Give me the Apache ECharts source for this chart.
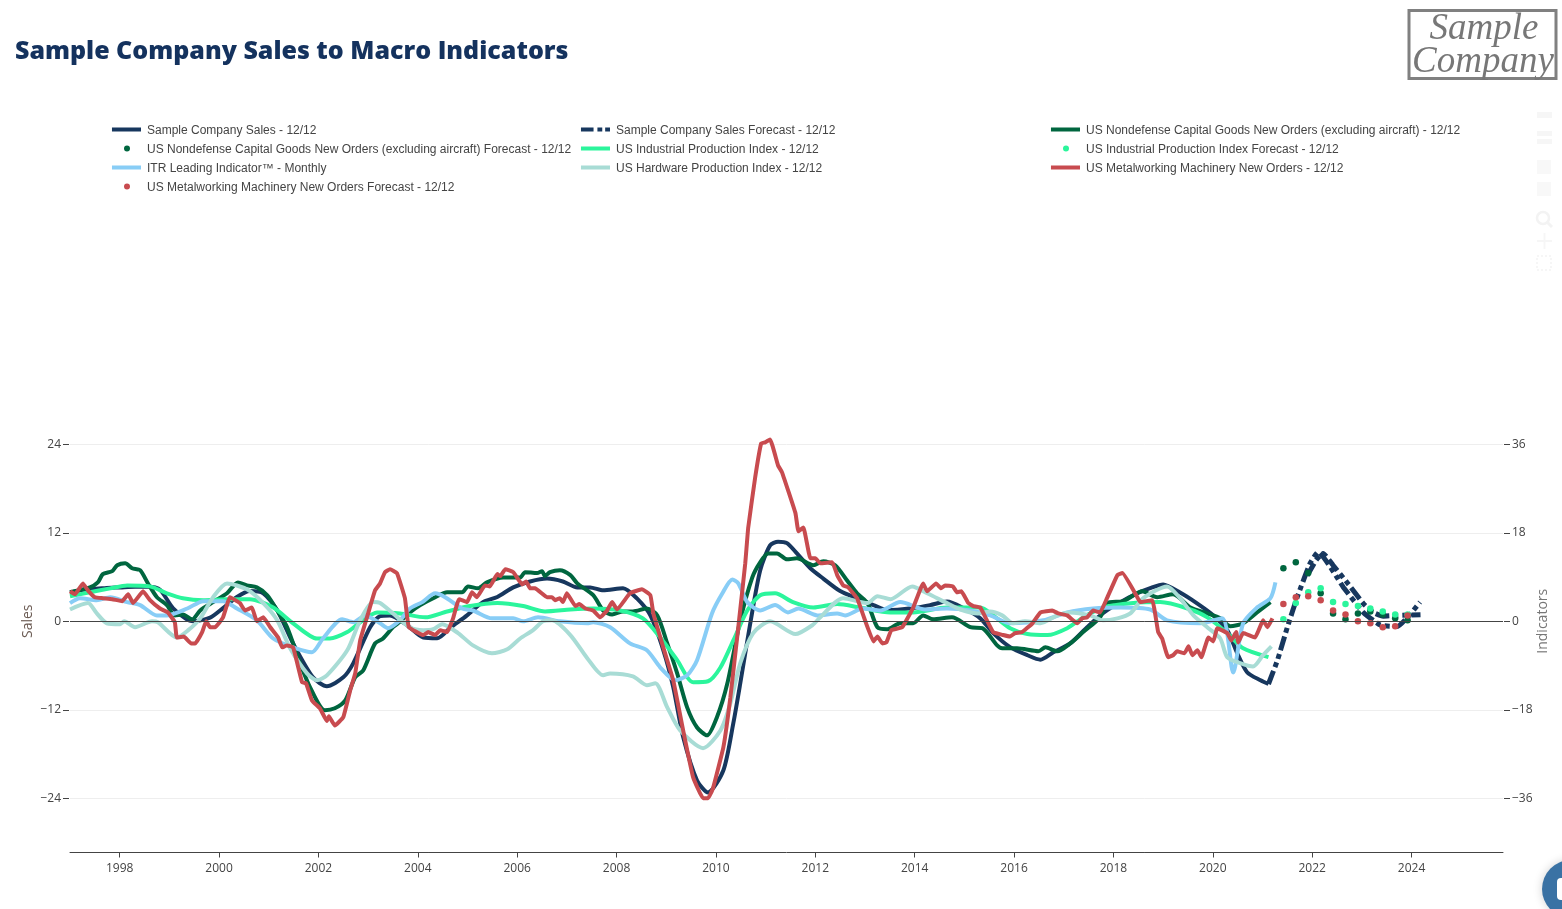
<!DOCTYPE html>
<html><head><meta charset="utf-8"><title>Sample Company Sales to Macro Indicators</title>
<script src="https://cdn.jsdelivr.net/npm/echarts@6/dist/echarts.min.js"></script>
<style>html,body{margin:0;padding:0;background:#fff;overflow:hidden}#c{width:1562px;height:909px}</style></head>
<body><div id="c"></div>
<script>
const yearTicks=[1998,2000,2002,2004,2006,2008,2010,2012,2014,2016,2018,2020,2022,2024];
const salesTicks=[-24,-12,0,12,24];
const indicatorTicks=[-36,-18,0,18,36];
const forecastYears=[2021.42,2021.67,2021.92,2022.17,2022.42,2022.67,2022.92,2023.17,2023.42,2023.67,2023.92];

const sales=[[1997,3.9],[1997.3,4.3],[1997.7,4.5],[1998.01,4.6],[1998.31,4.7],[1998.61,4.7],[1998.81,4.3],[1999.07,1.8],[1999.32,.4],[1999.48,0],[1999.82,.5],[2000.08,1.8],[2000.36,3.3],[2000.62,4.1],[2000.89,3.8],[2001.17,1.5],[2001.49,-3],[2001.89,-7.6],[2002.17,-8.8],[2002.5,-7.6],[2002.7,-5.7],[2003.04,-.8],[2003.24,.7],[2003.44,.8],[2003.78,-.5],[2004.11,-2.2],[2004.39,-2.3],[2004.65,-.9],[2004.99,.8],[2005.31,2.6],[2005.6,3.3],[2005.92,4.6],[2006.26,5.4],[2006.6,5.8],[2006.92,5.4],[2007.21,4.6],[2007.47,4.6],[2007.73,4.2],[2008.13,4.5],[2008.41,3.1],[2008.68,.8],[2008.94,-3.9],[2009.14,-8.9],[2009.34,-15.7],[2009.62,-21.6],[2009.84,-23.2],[2010.15,-20.2],[2010.35,-13.8],[2010.49,-8.4],[2010.69,-.3],[2010.89,6.9],[2011.09,10.3],[2011.25,10.8],[2011.43,10.6],[2011.63,9.2],[2011.9,7.2],[2012.16,5.8],[2012.5,4.1],[2012.84,3.1],[2013.17,2.2],[2013.45,1.5],[2013.97,1.8],[2014.31,2.2],[2014.65,2.7],[2014.98,1.8],[2015.32,.4],[2015.58,-1.6],[2015.92,-3.5],[2016.27,-4.6],[2016.53,-5.2],[2016.79,-4.2],[2017.13,-3],[2017.47,-.8],[2017.79,1.1],[2018.14,2.6],[2018.48,3.8],[2018.74,4.5],[2019,5],[2019.34,3.9],[2019.69,2.4],[2020.01,.8],[2020.29,-1.2],[2020.49,-4.3],[2020.69,-6.9],[2020.96,-8],[2021.12,-8.5]];
const salesForecast=[[2021.12,-8.5],[2021.3,-5.3],[2021.5,-.8],[2021.7,3.3],[2021.96,7.9],[2022.12,9.4],[2022.63,4.6],[2023.03,1.2],[2023.37,-.5],[2023.71,-.7],[2024.17,2.6]];
const salesForecastPrior=[[2021.9,6.2],[2022.08,8.3],[2022.22,9.2],[2022.42,7.6],[2022.71,5.2],[2023.03,2.4],[2023.23,1.2],[2023.43,.7],[2023.71,.8],[2024.18,.9]];
const capitalGoods=[[1997,5.9],[1997.4,6.9],[1997.56,7.9],[1997.66,9.6],[1997.85,10.2],[1997.95,11.4],[1998.11,11.8],[1998.25,10.8],[1998.41,10.4],[1998.57,7.7],[1998.75,4.9],[1998.95,3.3],[1999.11,1.2],[1999.27,1.4],[1999.46,.4],[1999.62,2.2],[1999.88,3.9],[2000.16,5.7],[2000.38,7.9],[2000.56,7.3],[2000.76,6.9],[2000.97,5.3],[2001.17,2.2],[2001.37,-1.2],[2001.63,-8.5],[2001.83,-13.4],[2002.13,-18.1],[2002.33,-17.7],[2002.54,-16.1],[2002.74,-11.4],[2002.9,-10],[2003.14,-4.5],[2003.3,-3.5],[2003.5,-1.2],[2003.6,-.4],[2003.84,1.8],[2004.05,3.3],[2004.35,4.9],[2004.59,5.9],[2004.89,5.9],[2005.01,7.1],[2005.21,6.7],[2005.39,7.9],[2005.72,8.9],[2006.06,8.9],[2006.16,10],[2006.4,9.8],[2006.5,10.2],[2006.56,9.2],[2006.66,10],[2006.86,10.4],[2007.07,9.4],[2007.21,7.7],[2007.53,5.3],[2007.73,2.2],[2007.91,1.4],[2008.13,2],[2008.33,2],[2008.61,2.6],[2008.82,1.2],[2009.02,-4.5],[2009.22,-10.6],[2009.42,-17.5],[2009.62,-21.6],[2009.82,-23.2],[2010.02,-19.5],[2010.23,-12.6],[2010.49,.2],[2010.73,8.9],[2010.89,12],[2011.05,13.8],[2011.23,13.8],[2011.43,12.6],[2011.63,12.8],[2011.96,11.4],[2012.16,12.2],[2012.4,11.4],[2012.64,8.3],[2012.84,5.7],[2013.05,3.7],[2013.25,-1.2],[2013.45,-1.6],[2013.71,-.4],[2013.97,-.4],[2014.17,1.2],[2014.37,.4],[2014.75,.8],[2015.12,-1.2],[2015.36,-1.4],[2015.66,-4.9],[2015.76,-5.5],[2016.06,-5.5],[2016.49,-6.1],[2016.63,-5.3],[2016.87,-6.1],[2017.13,-4.5],[2017.39,-2.2],[2017.73,.8],[2017.87,3.7],[2018.2,4.1],[2018.58,6.1],[2018.88,4.9],[2019.2,5.5],[2019.55,2.8],[2019.89,1.6],[2020.15,.6],[2020.35,-1],[2020.61,-.4],[2020.89,1.8],[2021.16,3.9]];
const capitalForecast=[10.8,12,9.8,5.7,1.6,.4,1.6,2,1.4,.6,.2];
const industrial=[[1997,5.1],[1997.4,5.9],[1997.81,6.7],[1998.15,7.3],[1998.61,7.1],[1998.95,5.7],[1999.27,4.7],[1999.68,4.3],[2000.16,4.5],[2000.62,4.5],[2001.09,2.8],[2001.49,-.4],[2001.97,-3.5],[2002.23,-3.5],[2002.58,-2.2],[2002.84,-.2],[2003.18,1.8],[2003.64,1.6],[2004.15,.8],[2004.59,2],[2005.05,3.1],[2005.6,3.7],[2006.12,3.1],[2006.56,2],[2007.07,2.4],[2007.53,2.6],[2008.07,2.2],[2008.53,.6],[2008.88,-3.3],[2009.22,-7.9],[2009.54,-12.4],[2009.84,-12.2],[2010.09,-9.4],[2010.35,-3.9],[2010.63,2.2],[2010.89,5.3],[2011.19,5.7],[2011.55,3.9],[2011.96,2.8],[2012.44,3.5],[2012.9,2.8],[2013.51,1.8],[2013.97,1.8],[2014.65,2.8],[2015.32,2.8],[2015.58,1.2],[2015.92,-1.4],[2016.27,-2.6],[2016.67,-2.8],[2017.07,-1.4],[2017.39,.8],[2017.79,2.8],[2018.4,3.7],[2018.94,3.9],[2019.49,2.6],[2019.89,.8],[2020.29,-2.4],[2020.61,-5.5],[2021.12,-7.3]];
const industrialForecast=[.4,3.7,5.9,6.7,3.9,3.5,3.1,2.6,2,1.4,1.4];
const itrLeading=[[1997,3.7],[1997.2,4.7],[1997.54,4.3],[1997.81,4.9],[1998.15,3.9],[1998.41,3.3],[1998.75,1.2],[1998.95,1.2],[1999.36,2.6],[1999.68,4.1],[2000.08,4.1],[2000.36,2.6],[2000.76,.2],[2001.09,-3.5],[2001.49,-5.3],[2001.87,-6.3],[2002.09,-3.5],[2002.48,.4],[2002.7,-.2],[2002.94,1.2],[2003.24,-.4],[2003.4,-1.4],[2003.64,.2],[2003.84,2.6],[2004.09,3.9],[2004.35,5.7],[2004.55,4.9],[2004.89,2.6],[2005.11,2.2],[2005.49,.6],[2005.92,.6],[2006.12,0],[2006.42,.8],[2006.86,0],[2007.41,-.4],[2007.53,-.2],[2007.87,-1.2],[2008.27,-4.5],[2008.61,-5.9],[2008.88,-9.4],[2009.18,-12],[2009.42,-11],[2009.62,-7.9],[2009.92,1.6],[2010.13,5.7],[2010.33,8.5],[2010.45,7.7],[2010.63,3.9],[2010.89,2.2],[2011.19,3.3],[2011.45,1.8],[2011.66,2.6],[2012.04,1.2],[2012.44,1.6],[2012.6,1.2],[2012.96,2.6],[2013.31,2.2],[2013.71,3.9],[2014.21,2.4],[2014.65,2.6],[2015.12,2.2],[2015.52,1.2],[2015.92,-.4],[2016.59,.2],[2017.07,1.8],[2017.59,2.6],[2018.14,2.8],[2018.74,2.4],[2019.08,.2],[2019.75,-.4],[2020.19,.6],[2020.41,-10.4],[2020.61,-.4],[2020.89,2.8],[2021.16,4.7],[2021.26,7.9]];
const hardware=[[1997,2.4],[1997.36,3.7],[1997.54,1.6],[1997.74,-.4],[1998.01,-.6],[1998.09,0],[1998.31,-1.2],[1998.65,0],[1998.77,-.2],[1999.15,-3.3],[1999.38,-1.8],[1999.62,.6],[1999.88,4.9],[2000.16,7.7],[2000.56,6.5],[2000.89,3.7],[2001.17,.2],[2001.43,-5.5],[2001.77,-10.6],[2001.97,-12],[2002.17,-11],[2002.58,-5.9],[2002.84,.2],[2003.1,3.9],[2003.24,3.7],[2003.5,1.6],[2003.84,-1.2],[2004.11,-1.8],[2004.31,-1.6],[2004.49,-.6],[2004.81,-2.4],[2005.11,-4.9],[2005.49,-6.5],[2005.8,-5.7],[2006.06,-3.5],[2006.32,-1.8],[2006.52,0],[2006.7,.2],[2007.07,-2.8],[2007.41,-7.5],[2007.73,-11],[2007.87,-10.6],[2008.33,-11.2],[2008.61,-13],[2008.78,-12.6],[2009.02,-17.5],[2009.28,-22.2],[2009.74,-25.8],[2010.09,-22.2],[2010.29,-16.7],[2010.49,-8.5],[2010.75,-2.4],[2011.09,0],[2011.6,-2.6],[2011.94,-.8],[2012.1,.8],[2012.56,4.7],[2013.05,3.7],[2013.25,5.1],[2013.51,4.5],[2013.95,7.1],[2014.25,5.7],[2014.65,3.7],[2014.92,2.4],[2015.26,1.6],[2015.52,2],[2015.76,1.2],[2015.98,-.4],[2016.22,0],[2016.53,-.4],[2016.87,1.2],[2017.13,1.8],[2017.53,1.2],[2017.79,.2],[2018.08,.6],[2018.34,1.6],[2018.6,4.7],[2019.08,7.1],[2019.34,4.7],[2019.61,1.2],[2019.91,-1.4],[2020.15,-3.5],[2020.29,-7.3],[2020.55,-8.5],[2020.81,-9.2],[2021.01,-6.9],[2021.18,-5.1]];
const metalworking=[[1997,6.1],[1997.1,5.5],[1997.26,7.7],[1997.36,6.3],[1997.5,4.9],[1997.66,4.7],[1997.85,4.5],[1998.05,4.1],[1998.17,5.5],[1998.27,3.7],[1998.47,6.1],[1998.61,4.3],[1998.81,2.6],[1998.97,1.8],[1999.11,-.2],[1999.15,-3.3],[1999.29,-3.1],[1999.44,-4.5],[1999.52,-4.5],[1999.66,-2.2],[1999.74,0],[1999.82,-1.2],[1999.92,-1.2],[2000.08,.8],[2000.22,4.9],[2000.42,3.7],[2000.52,2.2],[2000.66,2.8],[2000.76,0],[2000.89,.8],[2001.03,-1.2],[2001.19,-3.3],[2001.27,-5.3],[2001.37,-4.9],[2001.49,-5.3],[2001.67,-12.4],[2001.75,-12.6],[2001.87,-16.1],[2002.03,-17.7],[2002.17,-20.3],[2002.21,-19.3],[2002.33,-21.2],[2002.5,-19.5],[2002.64,-14],[2002.74,-10.6],[2002.84,-3.9],[2003,1.6],[2003.14,6.3],[2003.24,7.7],[2003.34,10],[2003.44,10.6],[2003.58,9.8],[2003.74,4.7],[2003.82,-1.2],[2004.11,-2.8],[2004.21,-2.2],[2004.35,-2.8],[2004.45,-1.8],[2004.59,-2.2],[2004.71,.6],[2004.83,4.5],[2004.99,3.9],[2005.09,5.9],[2005.19,4.9],[2005.35,7.3],[2005.45,7.1],[2005.6,9.6],[2005.66,9.2],[2005.76,10.6],[2005.92,10],[2006.1,7.5],[2006.18,8.1],[2006.26,6.7],[2006.36,6.7],[2006.6,4.9],[2006.7,4.9],[2006.76,4.3],[2006.86,4.7],[2006.92,3.9],[2007,5.7],[2007.17,3.1],[2007.25,3.5],[2007.37,2.6],[2007.53,2.2],[2007.67,.8],[2007.81,2.2],[2007.91,3.9],[2008.01,2.4],[2008.27,5.7],[2008.51,6.5],[2008.68,5.3],[2008.74,1.6],[2008.94,-5.3],[2009.14,-12],[2009.34,-22.2],[2009.54,-31.7],[2009.74,-36],[2009.84,-36],[2009.94,-34],[2010.15,-25.6],[2010.29,-15.5],[2010.45,-1.2],[2010.59,11.8],[2010.65,19.1],[2010.79,29.3],[2010.91,36.2],[2010.99,36.4],[2011.09,37],[2011.25,31.7],[2011.33,30.3],[2011.6,22],[2011.66,18.3],[2011.76,19.1],[2011.9,12.8],[2012,12.8],[2012.1,11.8],[2012.34,12],[2012.44,9.4],[2012.56,7.3],[2012.66,6.9],[2012.84,4.7],[2013,.2],[2013.17,-4.1],[2013.25,-3.1],[2013.35,-4.5],[2013.43,-4.3],[2013.53,-1.8],[2013.75,-1.2],[2013.97,2.8],[2014.17,7.7],[2014.25,6.1],[2014.43,7.7],[2014.53,6.7],[2014.61,7.3],[2014.77,7.1],[2014.85,5.9],[2014.94,6.1],[2015.08,3.7],[2015.18,3.1],[2015.32,2.8],[2015.58,-2.2],[2015.78,-2.8],[2015.92,-3.1],[2016.02,-2.4],[2016.16,-2.2],[2016.37,-.4],[2016.53,1.8],[2016.77,2.2],[2016.89,1.6],[2017.07,1.2],[2017.27,-.4],[2017.37,.6],[2017.47,.8],[2017.59,2.2],[2017.73,1.8],[2017.87,4.7],[2018.08,9.4],[2018.18,9.8],[2018.48,4.9],[2018.54,3.9],[2018.78,4.3],[2018.9,-2.2],[2018.98,-3.5],[2019.1,-7.3],[2019.2,-6.9],[2019.28,-6.1],[2019.43,-6.5],[2019.51,-5.1],[2019.59,-6.9],[2019.69,-5.9],[2019.77,-7.3],[2019.91,-3.3],[2020.01,-4.1],[2020.09,-1.4],[2020.29,-2.4],[2020.37,-3.9],[2020.47,-2.2],[2020.51,-4.3],[2020.61,-2.4],[2020.85,-3.3],[2021.01,.2],[2021.1,-1.2],[2021.2,.6]];
const metalworkingForecast=[3.5,4.9,5.1,4.3,2.2,1.4,0,-.4,-1.2,-1,1.2];

const NAVY='#17375e',DKGREEN='#00663f',SPRING='#2bf59c',SKY='#88cdf6',TEAL='#a8dcd5',RED='#c84b4f';
const names=['Sample Company Sales - 12/12','Sample Company Sales Forecast - 12/12','US Nondefense Capital Goods New Orders (excluding aircraft) - 12/12','US Nondefense Capital Goods New Orders (excluding aircraft) Forecast - 12/12','US Industrial Production Index - 12/12','US Industrial Production Index Forecast - 12/12','ITR Leading Indicator\u2122 - Monthly','US Hardware Production Index - 12/12','US Metalworking Machinery New Orders - 12/12','US Metalworking Machinery New Orders Forecast - 12/12'];
const legendCols=[111,580,1050];
const legendRows=[123.5,142.5,161.5,180.5];
const FONT='"Open Sans"';
const minusFmt=v=>v<0?'\u2212'+Math.abs(v):String(v);
const DASH=[14,4,5,4,5,4];
const CORNERS='M0 0L0 0Z M30 14L30 14Z ';
const ICON_SOLID='path://'+CORNERS+'M1 4H31V8H1Z';
const ICON_DASH='path://'+CORNERS+'M1 4H14V8H1Z M18 4H23V8H18Z M26 4H31V8H26Z';
const ICON_DOT='path://'+CORNERS+'M13 6a3 3 0 1 0 6 0a3 3 0 1 0 -6 0Z';
const legendIcons=[ICON_SOLID,ICON_DASH,ICON_SOLID,ICON_DOT,ICON_SOLID,ICON_DOT,ICON_SOLID,ICON_SOLID,ICON_SOLID,ICON_DOT];
const line=(name,data,color,yi,extra)=>Object.assign({name,type:'line',data,yAxisIndex:yi,symbol:'none',showSymbol:false,smooth:0.25,lineStyle:{color,width:4},itemStyle:{color},silent:true,animation:false},extra||{});
const dots=(name,vals,color)=>({name,type:'scatter',yAxisIndex:1,symbolSize:6.5,data:vals.map((v,i)=>[forecastYears[i],v]),itemStyle:{color,opacity:1},silent:true,animation:false,z:3});
const dashLine={type:DASH,width:5,color:NAVY,cap:'butt'};

const option={
 animation:false,backgroundColor:'#fff',
 title:{text:'Sample Company Sales to Macro Indicators',left:15,top:39,padding:0,textStyle:{fontFamily:FONT,fontSize:25,fontWeight:800,color:'#14325e'}},
 legend:names.map((n,i)=>({data:[{name:n,icon:legendIcons[i]}],left:legendCols[i%3],top:legendRows[Math.floor(i/3)],itemWidth:30,itemHeight:14,itemGap:0,selectedMode:false,padding:0,symbolKeepAspect:false,textStyle:{fontFamily:'"Liberation Sans"',fontSize:12,color:'#444',padding:[0,0,0,1]}})),
 grid:{left:70,right:59,top:404,bottom:56.5,containLabel:false,outerBoundsMode:'none'},
 xAxis:{type:'value',min:1997,max:2025.84,axisLine:{show:true,onZero:false,lineStyle:{color:'#444',width:1}},axisTick:{show:true,length:5,lineStyle:{color:'#444'},customValues:yearTicks},axisLabel:{customValues:yearTicks,color:'#444',fontFamily:FONT,fontSize:12,margin:10,formatter:v=>String(v)},splitLine:{show:false}},
 yAxis:[
  {type:'value',position:'left',min:-31.35,max:29.47,offset:1,name:'Sales',nameLocation:'middle',nameGap:34,nameRotate:90,nameMoveOverlap:false,nameTextStyle:{fontFamily:FONT,fontSize:14,color:'#6b5b53',padding:[0,0,0,14]},axisLine:{show:false},axisTick:{show:true,length:6,lineStyle:{color:'#444'},customValues:salesTicks},axisLabel:{customValues:salesTicks,color:'#444',fontFamily:FONT,fontSize:12,margin:8,formatter:minusFmt},splitLine:{show:true,lineStyle:{color:'#eee',width:1}}},
  {type:'value',position:'right',min:-47.03,max:44.2,offset:1,name:'Indicators',nameLocation:'middle',nameGap:32,nameRotate:90,nameMoveOverlap:false,nameTextStyle:{fontFamily:FONT,fontSize:14,color:'#777',padding:[0,0,0,14]},axisLine:{show:false},axisTick:{show:true,length:6,lineStyle:{color:'#444'},customValues:indicatorTicks},axisLabel:{customValues:indicatorTicks,color:'#444',fontFamily:FONT,fontSize:12,margin:8,formatter:minusFmt},splitLine:{show:false}}
 ],
 series:[
  line(names[0],sales,NAVY,0,{markLine:{silent:true,symbol:'none',animation:false,label:{show:false},lineStyle:{color:'#444',width:1,type:'solid'},data:[{yAxis:0}]}}),
  line(names[1],salesForecast,NAVY,0,{lineStyle:dashLine,smooth:0.15}),
  line(names[1],salesForecastPrior,NAVY,0,{lineStyle:dashLine,smooth:0.15}),
  line(names[2],capitalGoods,DKGREEN,1),
  dots(names[3],capitalForecast,DKGREEN),
  line(names[4],industrial,SPRING,1),
  dots(names[5],industrialForecast,SPRING),
  line(names[6],itrLeading,SKY,1),
  line(names[7],hardware,TEAL,1),
  line(names[8],metalworking,RED,1,{smooth:0.1}),
  dots(names[9],metalworkingForecast,RED)
 ],
 graphic:[
  {type:'rect',shape:{x:1409,y:10.5,width:147,height:68},style:{fill:'none',stroke:'#808080',lineWidth:3},silent:true},
  {type:'text',x:1484,y:29,style:{text:'Sample',fill:'#777',fontStyle:'italic',fontFamily:'"Liberation Serif"',fontSize:37,textAlign:'center',textVerticalAlign:'middle'},silent:true},
  {type:'text',x:1483,y:62,style:{text:'Company',fill:'#777',fontStyle:'italic',fontFamily:'"Liberation Serif"',fontSize:37,textAlign:'center',textVerticalAlign:'middle'},silent:true},
  {type:'rect',shape:{x:1537,y:112,width:15,height:6},style:{fill:'#f6f6f6'},silent:true},
  {type:'rect',shape:{x:1537,y:131,width:15,height:5},style:{fill:'#f6f6f6'},silent:true},
  {type:'rect',shape:{x:1537,y:139,width:15,height:5},style:{fill:'#f6f6f6'},silent:true},
  {type:'rect',shape:{x:1537,y:160,width:14,height:14},style:{fill:'#f8f8f8'},silent:true},
  {type:'rect',shape:{x:1537,y:182,width:14,height:14},style:{fill:'#f8f8f8'},silent:true},
  {type:'circle',shape:{cx:1543,cy:218,r:6},style:{fill:'none',stroke:'#f3f3f3',lineWidth:2.5},silent:true},
  {type:'line',shape:{x1:1547,y1:222,x2:1552,y2:227},style:{stroke:'#f3f3f3',lineWidth:3},silent:true},
  {type:'line',shape:{x1:1537,y1:241,x2:1552,y2:241},style:{stroke:'#f6f6f6',lineWidth:2},silent:true},
  {type:'line',shape:{x1:1544.5,y1:233,x2:1544.5,y2:249},style:{stroke:'#f6f6f6',lineWidth:2},silent:true},
  {type:'rect',shape:{x:1537,y:256,width:14,height:14},style:{fill:'none',stroke:'#f6f6f6',lineWidth:2,lineDash:[2,2]},silent:true},
  {type:'circle',shape:{cx:1571,cy:889,r:29},style:{fill:'#3a72a4',shadowBlur:10,shadowColor:'rgba(0,0,0,0.18)'},silent:true},
  {type:'rect',shape:{x:1557,y:878,width:8,height:22,r:4},style:{fill:'#fff'},silent:true}
 ]
};
const chart=echarts.init(document.getElementById('c'),null,{renderer:'canvas'});
chart.setOption(option);
</script></body></html>
